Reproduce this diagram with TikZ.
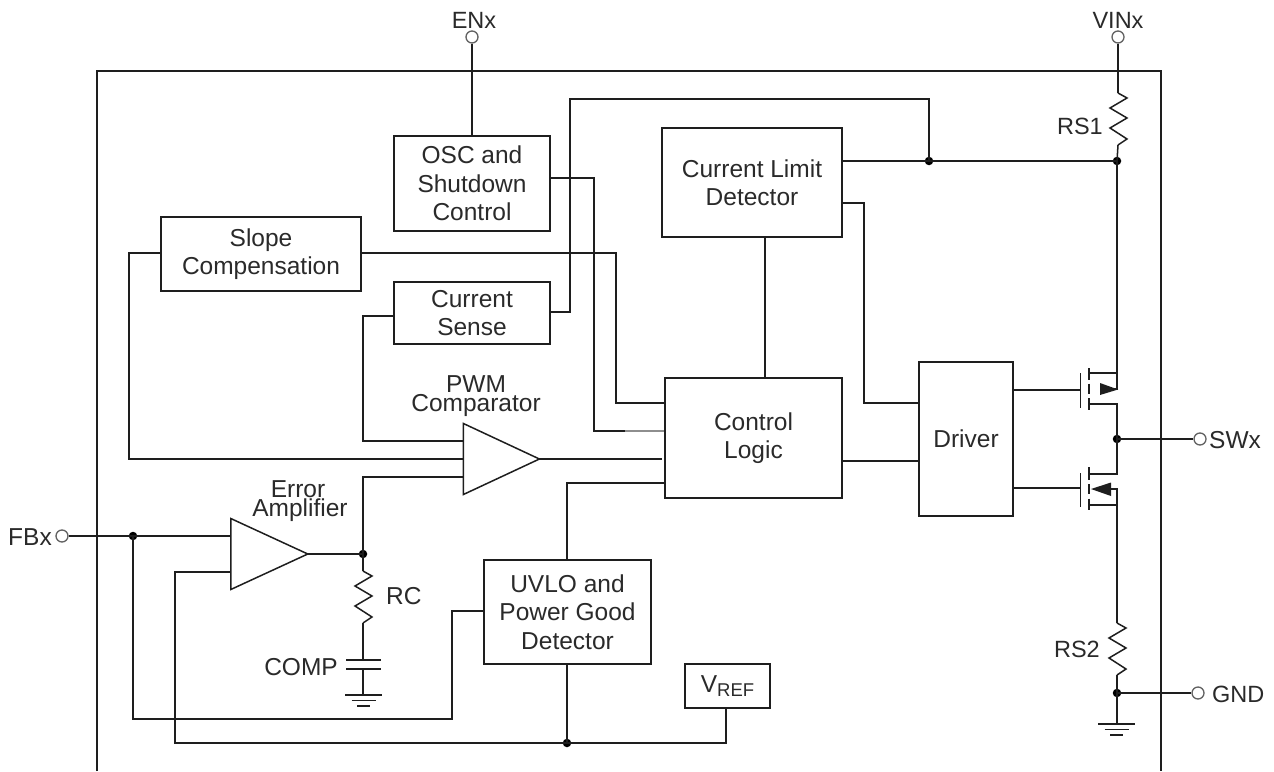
\documentclass[tikz,border=0pt]{standalone}
\usepackage{fontspec}
\setmainfont{Liberation Sans}
\usetikzlibrary{shapes.geometric}
\definecolor{ink}{HTML}{1E1E1E}
\definecolor{txt}{HTML}{2A2A2A}
\tikzset{
  wire/.style={draw=ink,line width=1.5pt,line join=miter},
  blk/.style={draw=ink,line width=1.5pt,inner sep=0pt,align=center,text=txt,font=\fontsize{24.5}{28.5}\selectfont},
  lbl/.style={inner sep=0pt,text=txt,font=\fontsize{24.5}{28.5}\selectfont,align=center},
  lblsmall/.style={lbl,font=\fontsize{23.5}{28}\selectfont},
  dot/.style={circle,fill=black,inner sep=0pt,minimum size=8.5pt},
  pin/.style={circle,draw=ink!70,fill=white,line width=1.3pt,inner sep=0pt,minimum size=12pt},
  amp/.style={draw=ink,line width=1.5pt,isosceles triangle,isosceles triangle stretches,inner sep=0pt,outer sep=0pt,shape border rotate=0}
}
\newcommand{\zigzag}[2]{\draw[wire] (#1,#2) -- ++(9,5) -- ++(-17,10) -- ++(17,10) -- ++(-17,10) -- ++(17,11) -- ++(-9,6);}
\newcommand{\gnd}[2]{\draw[wire] (#1-18.5,#2) -- (#1+18.5,#2) (#1-12,#2+5.5) -- (#1+12,#2+5.5) (#1-6.5,#2+11) -- (#1+6.5,#2+11);}
\begin{document}
\begin{tikzpicture}[x=1pt,y=-1pt]
\useasboundingbox (0,0) rectangle (1274,771);
% frame
\draw[wire] (97,771) -- (97,71) -- (1161,71) -- (1161,771);
% blocks
\node[blk,minimum width=156pt,minimum height=95pt] (osc) at (472,183.5) {OSC and\\Shutdown\\Control};
\node[blk,minimum width=180pt,minimum height=109pt] (cld) at (752,182.5) {Current Limit\\Detector};
\node[blk,minimum width=200pt,minimum height=74pt] (slope) at (261,254) {Slope\\Compensation};
\node[blk,minimum width=156pt,minimum height=62pt] (sense) at (472,313) {Current\\Sense};
\node[blk,minimum width=177pt,minimum height=120pt] (ctrl) at (753.5,438) {Control\\Logic};
\node[blk,minimum width=94pt,minimum height=154pt] (drv) at (966,439) {Driver};
\node[blk,minimum width=167pt,minimum height=104pt] (uvlo) at (567.5,612) {UVLO and\\Power Good\\Detector};
\node[blk,minimum width=85pt,minimum height=44pt] (vref) at (727.5,686) {V{\fontsize{18.5}{18.5}\selectfont\raisebox{-4pt}{REF}}};
\node[amp,minimum width=71pt,minimum height=76pt] (pwm) at (486,459) {};
\node[amp,minimum width=71pt,minimum height=77pt] (err) at (253.5,554) {};
% pins
\node[pin] (en) at (472,37) {};
\node[pin] (vin) at (1118,37) {};
\node[pin] (sw) at (1200,439) {};
\node[pin] (gndp) at (1198,693) {};
\node[pin] (fb) at (62,536) {};
% junctions
\node[dot] (jtop) at (929,161) {};
\node[dot] (jrs) at (1117,161) {};
\node[dot] (jsw) at (1117,439) {};
\node[dot] (jgnd) at (1117,693) {};
\node[dot] (jfb) at (133,536) {};
\node[dot] (jerr) at (363,554) {};
\node[dot] (jref) at (567,743) {};
% labels
\node[lblsmall] (tEN) at (474,20) {ENx};
\node[lblsmall] (tVIN) at (1118,20) {VINx};
\node[lbl,anchor=west] (tSW) at (1209,440) {SWx};
\node[lblsmall,anchor=west] (tGND) at (1212,694) {GND};
\node[lbl,anchor=east] (tFB) at (52,537) {FBx};
\node[lblsmall,anchor=east] (tRS1) at (1103,126) {RS1};
\node[lblsmall,anchor=east] (tRS2) at (1100,649) {RS2};
\node[lbl,anchor=west] (tRC) at (386,596) {RC};
\node[lbl,anchor=east] (tCOMP) at (338,667) {COMP};
\node[lbl] (tPWM) at (476,384.5) {PWM};
\node[lbl] (tCMP) at (476,405) {Comparator};
\node[lbl] (tERR) at (298,489.5) {Error};
\node[lbl] (tAMP) at (300,510) {Amplifier};
% top wires
\draw[wire] (en) -- (osc.north -| en);
\draw[wire] (vin) -- (1118,93);
\zigzag{1118}{93}
\draw[wire] (1118,145) -- (jrs.center);
\draw[wire] (sense.east |- 0,312) -- (570,312) -- (570,99) -- (929,99) -- (jtop.center);
\draw[wire] (cld.east |- jtop) -- (jrs.center);
% control-logic inputs
\draw[wire] (cld.south -| 765,0) -- (ctrl.north -| 765,0);
\draw[wire] (slope.east |- 0,253) -- (616,253) -- (616,403) -- (ctrl.west |- 0,403);
\draw[wire] (osc.east |- 0,178) -- (594,178) -- (594,431) -- (625,431);
\draw[draw=ink!50,line width=1.5pt] (625,431) -- (ctrl.west |- 0,431);
\draw[wire] (pwm.apex) -- (662,459);
\draw[wire] (uvlo.north -| jref) -- (567,483) -- (ctrl.west |- 0,483);
\draw[wire] (cld.east |- 0,203) -- (864,203) -- (864,403) -- (drv.west |- 0,403);
\draw[wire] (ctrl.east |- 0,461) -- (drv.west |- 0,461);
% comparator inputs
\draw[wire] (sense.west |- 0,316) -- (363,316) -- (363,441) -- (pwm.lower side |- 0,441);
\draw[wire] (slope.west |- 0,253) -- (129,253) -- (129,459) -- (pwm.lower side |- 0,459);
\draw[wire] (jerr.center) -- (363,477) -- (pwm.lower side |- 0,477);
% error amp
\draw[wire] (fb) -- (err.lower side |- fb);
\draw[wire] (err.apex) -- (jerr.center);
\draw[wire] (jfb.center) -- (133,719) -- (452,719) -- (452,611) -- (uvlo.west |- 0,611);
\draw[wire] (err.lower side |- 0,572) -- (175,572) -- (175,743) -- (726,743) -- (vref.south -| 726,0);
\draw[wire] (uvlo.south -| jref) -- (jref.center);
% RC + COMP
\draw[wire] (jerr.center) -- (363,571);
\zigzag{363}{571}
\draw[wire] (363,623) -- (363,660);
\draw[wire] (346,660) -- (381,660) (346,669) -- (381,669);
\draw[wire] (363,669) -- (363,695);
\gnd{363.5}{695}
% PMOS
\draw[wire] (drv.east |- 0,390) -- (1080.5,390);
\draw[wire] (1080.5,373) -- (1080.5,408);
\draw[wire] (1089,368) -- (1089,380) (1089,383.5) -- (1089,394) (1089,398) -- (1089,410);
\draw[wire] (jrs.center) -- (1117,389) -- (1100,389);
\draw[wire] (1089,373) -- (1117,373);
\draw[wire] (1089,404) -- (1117,404) -- (jsw.center);
\fill[ink] (1118,389.5) -- (1100,383) -- (1100,395) -- cycle;
% NMOS
\draw[wire] (drv.east |- 0,488) -- (1080.5,488);
\draw[wire] (1080.5,473) -- (1080.5,507);
\draw[wire] (1089,467) -- (1089,480) (1089,484) -- (1089,494) (1089,498.5) -- (1089,510);
\draw[wire] (jsw.center) -- (1117,474) -- (1089,474);
\draw[wire] (1089,505) -- (1117,505);
\draw[wire] (1100,489) -- (1117,489) -- (1117,623);
\fill[ink] (1091,489) -- (1111,482.5) -- (1111,496) -- cycle;
% outputs
\draw[wire] (jsw.center) -- (sw);
\zigzag{1117}{623}
\draw[wire] (1117,675) -- (jgnd.center);
\draw[wire] (jgnd.center) -- (gndp);
\draw[wire] (jgnd.center) -- (1117,724);
\gnd{1116.5}{724}
\end{tikzpicture}
\end{document}
